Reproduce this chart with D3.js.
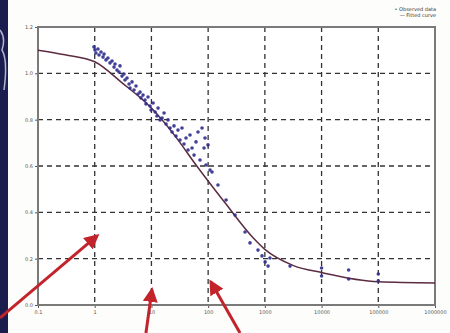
<!DOCTYPE html>
<html>
<head>
<meta charset="utf-8">
<script src="https://cdn.jsdelivr.net/npm/d3@7"></script>
<style>
  body { margin: 0; background: #fdfdfb; }
  svg { display: block; }
</style>
</head>
<body>
<svg id="chart" width="450" height="333"></svg>
<script>
// ticks
const xTicks = [0.1, 1, 10, 100, 1000, 10000, 100000, 1000000];
const xTickLabels = ["0.1", "1", "10", "100", "1000", "10000", "100000", "1000000"];
const yTicks = [0, 0.2, 0.4, 0.6, 0.8, 1.0, 1.2];
const yTickLabels = ["0.0", "0.2", "0.4", "0.6", "0.8", "1.0", "1.2"];

// observed points
const dose = [
  0.97, 1.01, 1.05, 1.14, 1.19, 1.29, 1.40, 1.46, 1.58, 1.71, 1.86, 2.02, 2.19, 2.28, 2.47, 2.68, 2.79, 3.03, 3.28, 3.42, 3.71, 4.03, 4.19,
  4.55, 4.93, 5.35, 5.80, 6.30, 6.55, 7.11, 7.71, 8.02, 8.71, 9.44, 9.84, 10.7, 11.6, 12.5, 13.1, 14.2, 15.4, 16.7, 18.1, 19.6, 21.3,
  23.1, 25.0, 27.1, 29.4, 31.9, 34.6, 37.5, 40.7, 44.2, 47.9, 52.0, 56.4, 61.1, 66.3, 71.9, 78.0, 84.6, 88.1, 91.7, 99.5, 108, 117,
  149, 207, 298, 447, 547, 757, 891, 1010, 1140, 1230, 2780, 10000, 10000, 30000, 30000, 100000, 100000
];
const response = [
  1.114, 1.101, 1.088, 1.105, 1.079, 1.092, 1.070, 1.083, 1.058, 1.066, 1.045, 1.053, 1.027, 1.040, 1.014, 1.006, 1.032, 0.988, 0.997, 0.971, 0.980, 0.954, 0.937,
  0.963, 0.928, 0.945, 0.911, 0.919, 0.894, 0.906, 0.885, 0.868, 0.898, 0.859, 0.842, 0.872, 0.833, 0.816, 0.850, 0.799, 0.807, 0.829, 0.781, 0.799, 0.764,
  0.747, 0.773, 0.729, 0.755, 0.712, 0.764, 0.695, 0.721, 0.669, 0.734, 0.678, 0.647, 0.704, 0.747, 0.626, 0.764, 0.678, 0.721, 0.604, 0.691, 0.583, 0.574,
  0.518, 0.453, 0.388, 0.315, 0.268, 0.237, 0.212, 0.186, 0.168, 0.203, 0.168, 0.160, 0.125, 0.151, 0.112, 0.134, 0.104
];

// fitted curve
const curveDose = [0.1, 0.3, 1, 3, 10, 26, 63, 200, 620, 1000, 3200, 10000, 100000, 1000000];
const curveResp = [1.10, 1.08, 1.05, 0.96, 0.85, 0.73, 0.60, 0.44, 0.29, 0.24, 0.17, 0.14, 0.10, 0.095];

// red annotation arrows: [tailDose, tailResp, tipDose, tipResp]
const arrows = [
  [0.0214, -0.056, 1.10, 0.298],
  [8.0, -0.121, 10.2, 0.065],
  [365, -0.121, 112, 0.099]
];

const legendLines = ["\u2022 Observed data", "\u2014 Fitted curve"];

const svg = d3.select("#chart");
const plotLeft = 38, plotRight = 435, plotTop = 27, plotBottom = 305;

const x = d3.scaleLog().domain([0.1, 1000000]).range([plotLeft, plotRight]);
const y = d3.scaleLinear().domain([0, 1.2]).range([plotBottom, plotTop]);

// dark strip at the left edge
svg.append("rect").attr("x", 0).attr("y", 0).attr("width", 8).attr("height", 333).attr("fill", "#1b1d4e");
svg.append("path")
  .attr("d", "M0,30 Q6,38 2,50 Q8,60 4,90")
  .attr("fill", "none").attr("stroke", "#d8dcf0").attr("stroke-width", 1.5).attr("opacity", 0.8);

// plot background
svg.append("rect").attr("x", plotLeft).attr("y", plotTop)
  .attr("width", plotRight - plotLeft).attr("height", plotBottom - plotTop).attr("fill", "#ffffff");

// grid
svg.append("g").selectAll("line")
  .data(xTicks.slice(1, -1))
  .enter().append("line")
  .attr("x1", (d) => x(d)).attr("x2", (d) => x(d))
  .attr("y1", plotTop).attr("y2", plotBottom)
  .attr("stroke", "#333").attr("stroke-width", 1.3).attr("stroke-dasharray", "5,4");
svg.append("g").selectAll("line")
  .data(yTicks.slice(1, -1))
  .enter().append("line")
  .attr("x1", plotLeft).attr("x2", plotRight)
  .attr("y1", (d) => y(d)).attr("y2", (d) => y(d))
  .attr("stroke", "#333").attr("stroke-width", 1.3).attr("stroke-dasharray", "5,4");

// axes
const xAxis = svg.append("g")
  .attr("transform", "translate(0," + plotBottom + ")")
  .call(d3.axisBottom(x).tickValues(xTicks).tickFormat((d, i) => xTickLabels[i]).tickSize(3).tickPadding(2));
const yAxis = svg.append("g")
  .attr("transform", "translate(" + plotLeft + ",0)")
  .call(d3.axisLeft(y).tickValues(yTicks).tickFormat((d, i) => yTickLabels[i]).tickSize(3).tickPadding(2));
[xAxis, yAxis].forEach((g) => {
  g.select(".domain").remove();
  g.selectAll("line").attr("stroke", "#555");
  g.selectAll("text").attr("fill", "#555").style("font-family", "DejaVu Sans").style("font-size", "5px");
});

// frame
svg.append("rect").attr("x", plotLeft).attr("y", plotTop)
  .attr("width", plotRight - plotLeft).attr("height", plotBottom - plotTop)
  .attr("fill", "none").attr("stroke", "#7a7a7a").attr("stroke-width", 2);

// fitted curve
const line = d3.line()
  .x((d, i) => x(curveDose[i]))
  .y((d, i) => y(curveResp[i]))
  .curve(d3.curveMonotoneX);
svg.append("path")
  .datum(curveDose)
  .attr("d", line)
  .attr("fill", "none").attr("stroke", "#5c2c42").attr("stroke-width", 1.5);

// observed points
svg.append("g").selectAll("circle")
  .data(dose)
  .enter().append("circle")
  .attr("cx", (d) => x(d))
  .attr("cy", (d, i) => y(response[i]))
  .attr("r", 1.8)
  .attr("fill", "#2f2c8c").attr("opacity", 0.9);

// legend text
svg.append("g").selectAll("text")
  .data(legendLines)
  .enter().append("text")
  .attr("x", 436).attr("y", (d, i) => 11 + i * 6)
  .attr("text-anchor", "end")
  .attr("fill", "#333").style("font-family", "DejaVu Sans").style("font-size", "5px")
  .text((d) => d);

// red arrows
svg.append("defs").append("marker")
  .attr("id", "head").attr("viewBox", "0 0 10 10").attr("refX", 8).attr("refY", 5)
  .attr("markerWidth", 5).attr("markerHeight", 5).attr("orient", "auto")
  .append("path").attr("d", "M0,0 L10,5 L0,10 Z").attr("fill", "#c3232b");
svg.append("g").selectAll("line")
  .data(arrows)
  .enter().append("line")
  .attr("x1", (d) => x(d[0])).attr("y1", (d) => y(d[1]))
  .attr("x2", (d) => x(d[2])).attr("y2", (d) => y(d[3]))
  .attr("stroke", "#c3232b").attr("stroke-width", 3)
  .attr("marker-end", "url(#head)");
</script>
</body>
</html>
